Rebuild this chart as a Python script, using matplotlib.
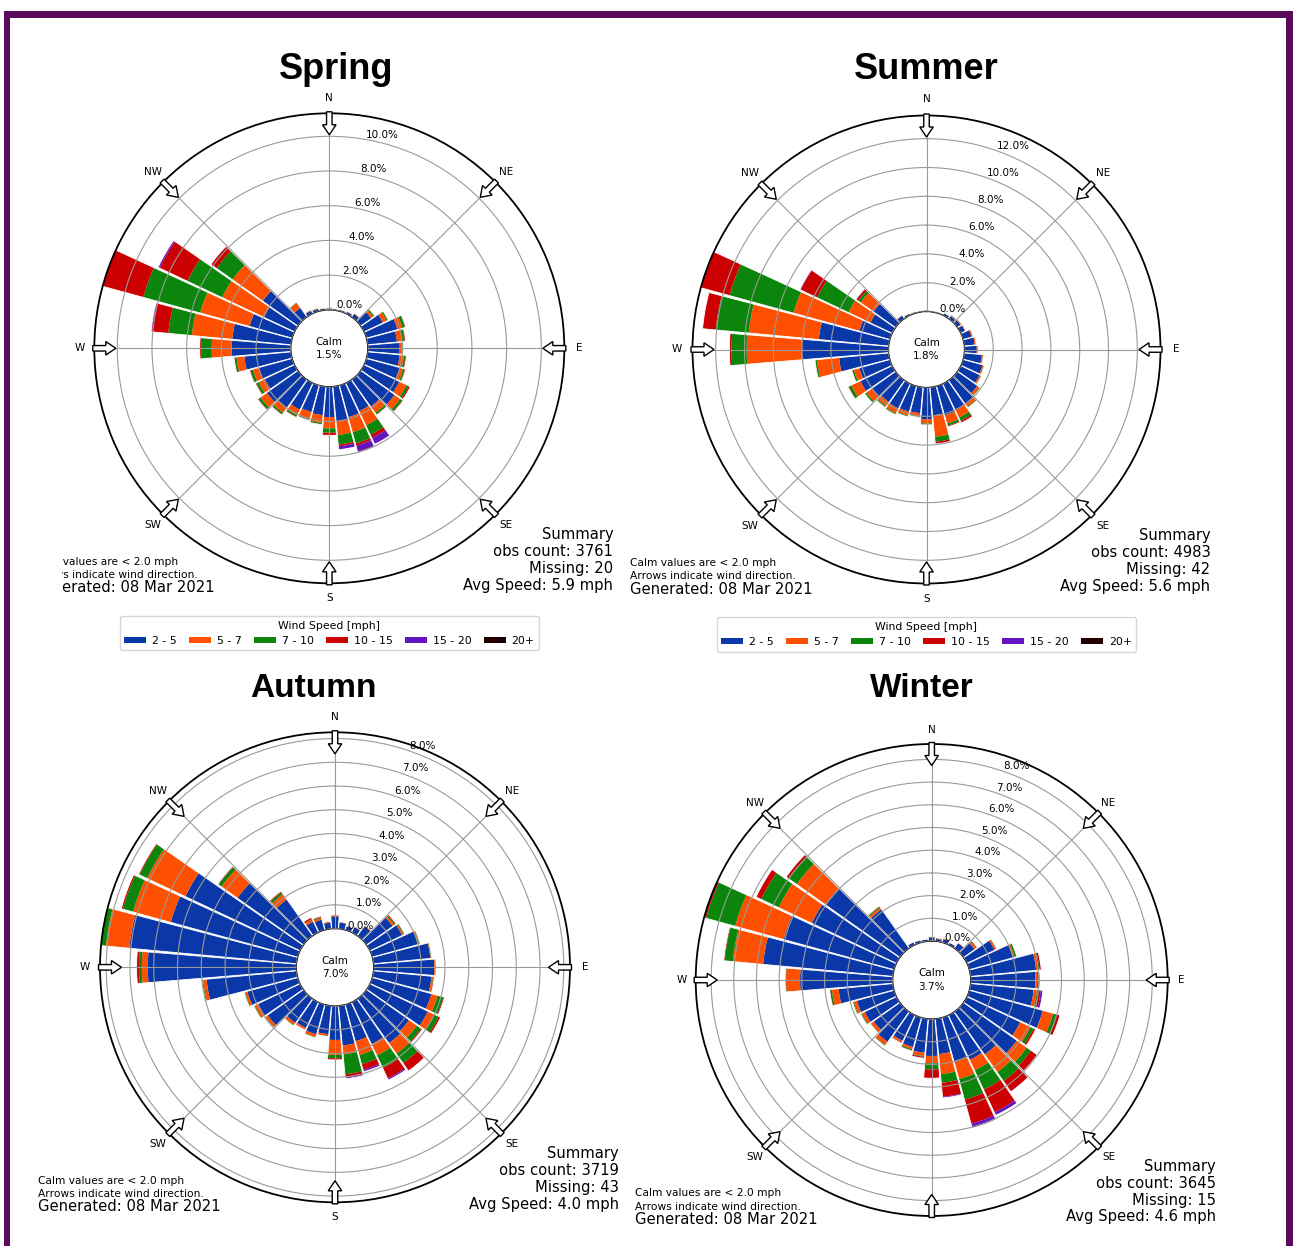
import numpy as np
import matplotlib
matplotlib.use('Agg')
import matplotlib.pyplot as plt
from matplotlib.patches import FancyArrow, Rectangle, Patch
from matplotlib.transforms import Bbox, TransformedBbox

# ---------------- data ----------------
directions = list(range(0, 360, 10))
speed_bins = ['2 - 5', '5 - 7', '7 - 10', '10 - 15', '15 - 20', '20+']
compass_labels = ['N', 'NE', 'E', 'SE', 'S', 'SW', 'W', 'NW']

spring_2_5 = [0.08, 0.06, 0.08, 0.12, 0.22, 0.75, 1.20, 1.85, 1.70, 1.80, 1.85, 2.00, 2.25, 2.40, 1.90, 1.80, 1.90, 2.00,
              1.75, 1.65, 1.60, 1.70, 2.00, 2.20, 1.90, 2.00, 2.70, 3.41, 3.40, 2.55, 1.95, 2.49, 0.65, 0.18, 0.14, 0.09]
spring_5_7 = [0.02, 0.02, 0.02, 0.03, 0.05, 0.15, 0.25, 0.30, 0.30, 0.15, 0.25, 0.20, 0.45, 0.40, 0.45, 0.90, 0.90, 0.80,
              0.65, 0.45, 0.40, 0.35, 0.35, 0.45, 0.40, 0.35, 0.45, 1.15, 2.34, 2.95, 2.67, 2.13, 0.35, 0.05, 0.04, 0.02]
spring_7_10 = [0.01, 0.00, 0.00, 0.00, 0.01, 0.08, 0.08, 0.15, 0.15, 0.07, 0.10, 0.10, 0.15, 0.15, 0.12, 0.60, 0.67, 0.55,
               0.25, 0.08, 0.07, 0.10, 0.10, 0.15, 0.15, 0.15, 0.12, 0.58, 1.36, 3.40, 2.21, 1.13, 0.04, 0.02, 0.02, 0.01]
spring_10_15 = [0.01, 0.00, 0.00, 0.00, 0.00, 0.02, 0.02, 0.05, 0.05, 0.03, 0.05, 0.05, 0.10, 0.05, 0.03, 0.20, 0.13, 0.10,
                0.15, 0.02, 0.03, 0.05, 0.05, 0.05, 0.05, 0.05, 0.03, 0.11, 0.95, 2.80, 1.77, 0.38, 0.01, 0.00, 0.00, 0.00]
spring_15_20 = [0.00, 0.00, 0.00, 0.00, 0.00, 0.00, 0.00, 0.00, 0.00, 0.00, 0.00, 0.00, 0.00, 0.00, 0.00, 0.40, 0.35, 0.20,
                0.00, 0.00, 0.00, 0.00, 0.00, 0.00, 0.00, 0.00, 0.00, 0.00, 0.05, 0.00, 0.10, 0.02, 0.00, 0.00, 0.00, 0.00]
spring_20p = [0.00, 0.00, 0.00, 0.00, 0.00, 0.00, 0.00, 0.00, 0.00, 0.00, 0.00, 0.00, 0.00, 0.00, 0.00, 0.00, 0.05, 0.00,
              0.00, 0.00, 0.00, 0.00, 0.00, 0.00, 0.00, 0.00, 0.00, 0.00, 0.00, 0.00, 0.00, 0.00, 0.00, 0.00, 0.00, 0.00]

summer_2_5 = [0.05, 0.04, 0.05, 0.15, 0.22, 0.28, 0.32, 0.60, 0.72, 0.85, 1.22, 1.40, 1.45, 1.70, 2.00, 2.00, 2.10, 1.95,
              2.20, 1.80, 1.85, 1.90, 1.85, 2.05, 2.45, 2.20, 3.46, 6.05, 4.87, 2.20, 1.68, 1.88, 0.25, 0.12, 0.08, 0.06]
summer_5_7 = [0.02, 0.02, 0.01, 0.03, 0.05, 0.06, 0.06, 0.10, 0.08, 0.07, 0.09, 0.10, 0.10, 0.18, 0.25, 0.60, 0.60, 1.50,
              0.30, 0.25, 0.30, 0.38, 0.35, 0.45, 0.70, 0.40, 1.54, 3.80, 4.89, 4.74, 1.68, 1.10, 0.05, 0.03, 0.02, 0.02]
summer_7_10 = [0.01, 0.01, 0.00, 0.01, 0.04, 0.03, 0.02, 0.02, 0.02, 0.02, 0.02, 0.03, 0.04, 0.06, 0.07, 0.25, 0.15, 0.35,
               0.08, 0.05, 0.06, 0.08, 0.09, 0.12, 0.20, 0.12, 0.12, 1.05, 2.30, 4.60, 2.41, 0.20, 0.02, 0.00, 0.00, 0.00]
summer_10_15 = [0.02, 0.00, 0.00, 0.00, 0.01, 0.01, 0.00, 0.00, 0.01, 0.01, 0.01, 0.00, 0.01, 0.01, 0.01, 0.15, 0.08, 0.15,
                0.02, 0.00, 0.01, 0.02, 0.02, 0.02, 0.05, 0.03, 0.02, 0.15, 0.92, 2.40, 1.26, 0.15, 0.00, 0.00, 0.00, 0.00]
summer_15_20 = [0.00, 0.00, 0.00, 0.00, 0.00, 0.00, 0.00, 0.00, 0.00, 0.00, 0.00, 0.00, 0.00, 0.00, 0.00, 0.00, 0.00, 0.00,
                0.00, 0.00, 0.00, 0.00, 0.00, 0.00, 0.00, 0.00, 0.00, 0.00, 0.00, 0.10, 0.06, 0.05, 0.00, 0.00, 0.00, 0.00]
summer_20p = [0.0] * 36

autumn_2_5 = [0.50, 0.26, 0.17, 0.24, 0.50, 1.35, 1.50, 2.00, 2.40, 2.55, 2.45, 2.58, 2.70, 2.20, 2.29, 1.95, 1.60, 1.68,
              1.43, 1.20, 1.30, 1.20, 1.25, 1.85, 1.95, 2.20, 3.80, 6.25, 7.06, 5.54, 5.34, 3.41, 1.87, 0.50, 0.45, 0.26]
autumn_5_7 = [0.02, 0.02, 0.02, 0.03, 0.04, 0.08, 0.06, 0.05, 0.03, 0.03, 0.07, 0.27, 0.30, 0.40, 0.54, 0.53, 0.60, 0.37,
              0.63, 0.08, 0.12, 0.08, 0.12, 0.12, 0.17, 0.10, 0.15, 0.25, 0.99, 1.64, 1.78, 0.82, 0.28, 0.10, 0.08, 0.04]
autumn_7_10 = [0.01, 0.01, 0.01, 0.01, 0.01, 0.05, 0.04, 0.04, 0.03, 0.04, 0.02, 0.25, 0.20, 0.22, 0.49, 0.58, 0.40, 0.84,
               0.14, 0.02, 0.03, 0.02, 0.03, 0.03, 0.04, 0.04, 0.05, 0.12, 0.30, 0.45, 0.35, 0.15, 0.10, 0.02, 0.04, 0.01]
autumn_10_15 = [0.04, 0.01, 0.00, 0.00, 0.00, 0.05, 0.02, 0.00, 0.00, 0.00, 0.03, 0.05, 0.09, 0.06, 0.40, 0.49, 0.25, 0.14,
                0.07, 0.00, 0.00, 0.00, 0.00, 0.00, 0.00, 0.00, 0.00, 0.10, 0.00, 0.07, 0.05, 0.04, 0.05, 0.08, 0.04, 0.01]
autumn_15_20 = [0.00, 0.00, 0.00, 0.00, 0.00, 0.00, 0.00, 0.00, 0.00, 0.00, 0.00, 0.00, 0.00, 0.00, 0.00, 0.07, 0.08, 0.05,
                0.00, 0.00, 0.00, 0.00, 0.00, 0.00, 0.00, 0.00, 0.00, 0.00, 0.00, 0.00, 0.00, 0.00, 0.00, 0.00, 0.00, 0.00]
autumn_20p = [0.0] * 36

winter_2_5 = [0.15, 0.10, 0.15, 0.10, 0.28, 0.60, 1.35, 2.00, 2.90, 2.85, 2.79, 3.36, 2.60, 2.88, 2.31, 2.18, 2.03, 1.56,
              1.63, 1.50, 1.35, 1.25, 1.63, 1.42, 1.55, 1.70, 2.40, 4.08, 5.74, 5.05, 4.13, 4.03, 2.10, 0.12, 0.10, 0.08]
winter_5_7 = [0.02, 0.02, 0.03, 0.02, 0.03, 0.08, 0.08, 0.08, 0.10, 0.08, 0.15, 0.47, 0.50, 0.54, 0.95, 0.51, 0.78, 0.89,
              0.32, 0.15, 0.10, 0.08, 0.18, 0.15, 0.15, 0.15, 0.30, 0.62, 1.34, 2.21, 1.61, 1.54, 0.10, 0.03, 0.02, 0.02]
winter_7_10 = [0.03, 0.00, 0.02, 0.00, 0.00, 0.03, 0.03, 0.09, 0.05, 0.04, 0.08, 0.15, 0.15, 0.23, 0.48, 0.94, 0.94, 0.38,
               0.27, 0.03, 0.05, 0.00, 0.04, 0.03, 0.05, 0.05, 0.08, 0.03, 0.36, 1.33, 0.85, 0.45, 0.05, 0.00, 0.00, 0.00]
winter_10_15 = [0.00, 0.03, 0.00, 0.00, 0.00, 0.04, 0.00, 0.00, 0.08, 0.08, 0.08, 0.16, 0.10, 0.33, 0.56, 1.10, 1.10, 0.62,
                0.39, 0.05, 0.03, 0.04, 0.00, 0.00, 0.00, 0.00, 0.02, 0.01, 0.04, 0.21, 0.25, 0.12, 0.03, 0.00, 0.00, 0.00]
winter_15_20 = [0.00, 0.00, 0.00, 0.00, 0.00, 0.00, 0.00, 0.00, 0.00, 0.00, 0.10, 0.00, 0.00, 0.00, 0.02, 0.15, 0.20, 0.05,
                0.00, 0.02, 0.00, 0.00, 0.00, 0.00, 0.00, 0.00, 0.00, 0.00, 0.00, 0.00, 0.00, 0.00, 0.00, 0.00, 0.00, 0.00]
winter_20p = [0.0] * 36

season_names = ['Spring', 'Summer', 'Autumn', 'Winter']
calm_values = [1.5, 1.8, 7.0, 3.7]
obs_counts = [3761, 4983, 3719, 3645]
missing_counts = [20, 42, 43, 15]
avg_speeds = [5.9, 5.6, 4.0, 4.6]
spring_rticks = [0, 2, 4, 6, 8, 10]
summer_rticks = [0, 2, 4, 6, 8, 10, 12]
autumn_rticks = [0, 1, 2, 3, 4, 5, 6, 7, 8]
winter_rticks = [0, 1, 2, 3, 4, 5, 6, 7, 8]
generated_date = '08 Mar 2021'

# ---------------- style / layout ----------------
W, H = 1293, 1246
bar_colors = ['#0b38a8', '#ff4f00', '#0b850b', '#cc0000', '#6414c0', '#200000']

fig = plt.figure(figsize=(W / 100, H / 100), dpi=100)
fig.patch.set_facecolor('white')


def fx(x):
    return x / W


def fy(y):
    return 1 - y / H


frame_col = '#5a0c5a'
for (x0, y0, x1, y1) in [(4, 11, 1293, 18), (4, 11, 10, 1246), (1286, 11, 1293, 1246)]:
    fig.patches.append(Rectangle((fx(x0), fy(y1)), (x1 - x0) / W, (y1 - y0) / H,
                                 transform=fig.transFigure, facecolor=frame_col,
                                 edgecolor='none', zorder=0))

panels = [
    dict(cx=329.3, cy=348.3, R=235, calm_px=38.5, ppp=17.35, lab_ang=10, title_x=336, title_y=79, title_fs=26,
         segs=[spring_2_5, spring_5_7, spring_7_10, spring_10_15, spring_15_20, spring_20p],
         rticks=spring_rticks, legend=True, clip_left=62, clip_bottom=None),
    dict(cx=926.5, cy=349.5, R=234, calm_px=38, ppp=14.4, lab_ang=19.5, title_x=926, title_y=79, title_fs=26,
         segs=[summer_2_5, summer_5_7, summer_7_10, summer_10_15, summer_15_20, summer_20p],
         rticks=summer_rticks, legend=True, clip_left=None, clip_bottom=None),
    dict(cx=335.0, cy=967.3, R=235, calm_px=38.7, ppp=23.76, lab_ang=19, title_x=313, title_y=697, title_fs=24,
         segs=[autumn_2_5, autumn_5_7, autumn_7_10, autumn_10_15, autumn_15_20, autumn_20p],
         rticks=autumn_rticks, legend=False, clip_left=None, clip_bottom=None),
    dict(cx=931.7, cy=980.0, R=236, calm_px=39, ppp=22.7, lab_ang=19, title_x=922, title_y=697, title_fs=24,
         segs=[winter_2_5, winter_5_7, winter_7_10, winter_10_15, winter_15_20, winter_20p],
         rticks=winter_rticks, legend=False, clip_left=None, clip_bottom=1221),
]

for i, p in enumerate(panels):
    cx, cy, R = p['cx'], p['cy'], p['R']
    ax = fig.add_axes([fx(cx - R), fy(cy + R), 2 * R / W, 2 * R / H], projection='polar')
    ax.set_theta_zero_location('N')
    ax.set_theta_direction(-1)
    c = p['calm_px'] / p['ppp']
    rmax = (R - p['calm_px']) / p['ppp']
    ax.set_rorigin(-c)
    ax.set_ylim(0, rmax)

    theta = np.radians(directions)
    width = np.radians(9.4)
    bottom = np.zeros(len(directions))
    for vals, col, lab in zip(p['segs'], bar_colors, speed_bins):
        vals = np.asarray(vals, dtype=float)
        ax.bar(theta, vals, width=width, bottom=bottom, color=col, edgecolor='none',
               linewidth=0, label=lab, zorder=1)
        bottom = bottom + vals
    ax.bar(theta, bottom, width=width, bottom=0, facecolor='none', edgecolor='white',
           linewidth=0.6, zorder=1.5)

    ax.set_xticks(np.radians(np.arange(0, 360, 45)))
    ax.set_xticklabels([])
    ax.set_yticks(p['rticks'])
    ax.set_yticklabels([])
    ax.set_axisbelow(False)
    ax.grid(True, color='#9a9a9a', linewidth=0.8)
    ax.spines['polar'].set_color('black')
    ax.spines['polar'].set_linewidth(1.3)
    ax.spines['inner'].set_color('black')
    ax.spines['inner'].set_linewidth(0.9)

    for t in p['rticks']:
        ax.text(np.radians(p['lab_ang']), t, f'{t:.1f}%', ha='left', va='bottom',
                fontsize=7.5, zorder=6, clip_on=False)

    # compass arrows and labels
    for k, lab in enumerate(compass_labels):
        ang = np.radians(45 * k)
        ux, uy = np.sin(ang), np.cos(ang)
        s0 = (R + 1.5) / (2 * R)
        L = 23 / (2 * R)
        arr = FancyArrow(0.5 + ux * s0, 0.5 + uy * s0, -ux * L, -uy * L,
                         width=5.5 / (2 * R), head_width=13.5 / (2 * R), head_length=10 / (2 * R),
                         length_includes_head=True, facecolor='white', edgecolor='black',
                         linewidth=1.0, transform=ax.transAxes, clip_on=False, zorder=7)
        ax.add_patch(arr)
        sl = 250 / (2 * R)
        t = ax.text(0.5 + ux * sl, 0.5 + uy * sl, lab, transform=ax.transAxes, ha='center',
                    va='center', fontsize=7.5, clip_on=False, zorder=7)
        if p['clip_bottom'] is not None:
            t.set_clip_on(True)
            t.set_clip_box(TransformedBbox(Bbox.from_extents(0, fy(p['clip_bottom']), 1, 1),
                                           fig.transFigure))

    # calm text
    fig.text(fx(cx), fy(cy - 6.5), 'Calm', ha='center', va='center', fontsize=7.5, zorder=8)
    fig.text(fx(cx), fy(cy + 6.5), f'{calm_values[i]:.1f}%', ha='center', va='center', fontsize=7.5, zorder=8)

    # title
    fig.text(fx(p['title_x']), fy(p['title_y']), season_names[i], ha='center', va='baseline',
             fontsize=p['title_fs'], fontweight='bold', family='Liberation Sans')

    # summary
    summ = ['Summary', f'obs count: {obs_counts[i]}', f'Missing: {missing_counts[i]}',
            f'Avg Speed: {avg_speeds[i]:.1f} mph']
    for j, line in enumerate(summ):
        fig.text(fx(cx + 284), fy(cy + 186 + 17 * j), line, ha='right', va='center', fontsize=10.6)

    # left notes
    notes = [('Calm values are < 2.0 mph', 7.7, 213.5), ('Arrows indicate wind direction.', 7.7, 226.5),
             (f'Generated: {generated_date}', 10.6, 239.5)]
    for line, fs, dy in notes:
        t = fig.text(fx(cx - 297), fy(cy + dy), line, ha='left', va='center', fontsize=fs)
        if p['clip_left'] is not None:
            t.set_clip_on(True)
            t.set_clip_box(TransformedBbox(Bbox.from_extents(fx(p['clip_left']), 0, 1, 1),
                                           fig.transFigure))

    if p['legend']:
        handles = [Patch(facecolor=col, edgecolor='none') for col in bar_colors]
        leg = fig.legend(handles, speed_bins, title='Wind Speed [mph]', loc='center',
                         bbox_to_anchor=(fx(cx), fy(cy + 285)), ncol=6, fontsize=7.9,
                         title_fontsize=7.8, handlelength=2.0, handleheight=0.45,
                         handletextpad=0.55, columnspacing=1.1, borderpad=0.4,
                         frameon=True, fancybox=True)
        leg.get_frame().set_edgecolor('#cccccc')

fig.savefig('out.png', dpi=100)
